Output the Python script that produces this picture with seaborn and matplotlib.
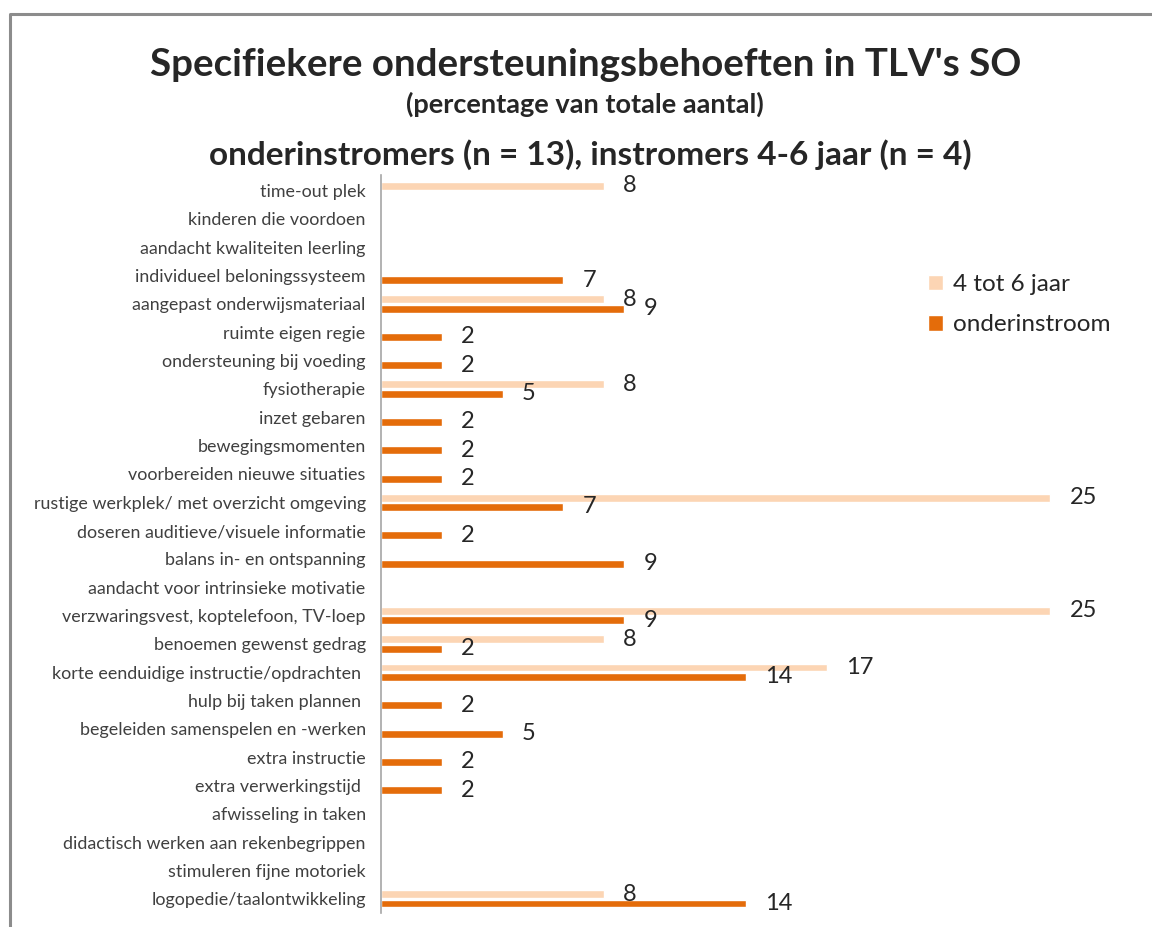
import pandas as pd
import numpy as np
import matplotlib.pyplot as plt
import seaborn as sns
from matplotlib.lines import Line2D
from matplotlib.patches import Patch

categories = [
    'time-out plek',
    'kinderen die voordoen',
    'aandacht kwaliteiten leerling',
    'individueel beloningssysteem',
    'aangepast onderwijsmateriaal',
    'ruimte eigen regie',
    'ondersteuning bij voeding',
    'fysiotherapie',
    'inzet gebaren',
    'bewegingsmomenten',
    'voorbereiden nieuwe situaties',
    'rustige werkplek/ met overzicht omgeving',
    'doseren auditieve/visuele informatie',
    'balans in- en ontspanning',
    'aandacht voor intrinsieke motivatie',
    'verzwaringsvest, koptelefoon, TV-loep',
    'benoemen gewenst gedrag',
    'korte eenduidige instructie/opdrachten ',
    'hulp bij taken plannen ',
    'begeleiden samenspelen en -werken',
    'extra instructie',
    'extra verwerkingstijd ',
    'afwisseling in taken',
    'didactisch werken aan rekenbegrippen',
    'stimuleren fijne motoriek',
    'logopedie/taalontwikkeling',
]

# percentages (labels in the picture are rounded)
jaar_4_6 = [8.33, 0, 0, 0, 8.33, 0, 0, 8.33, 0, 0, 0, 25.0, 0, 0, 0,
            25.0, 8.33, 16.67, 0, 0, 0, 0, 0, 0, 0, 8.33]
onderinstroom = [0, 0, 0, 6.82, 9.09, 2.27, 2.27, 4.55, 2.27, 2.27, 2.27, 6.82,
                 2.27, 9.09, 0, 9.09, 2.27, 13.64, 2.27, 4.55, 2.27, 2.27,
                 0, 0, 0, 13.64]

series_names = ['4 tot 6 jaar', 'onderinstroom']
colors = ['#FCD5B4', '#E46C0A']

df = pd.DataFrame({'categorie': categories,
                   series_names[0]: jaar_4_6,
                   series_names[1]: onderinstroom})
df_melted = df.melt(id_vars='categorie', var_name='groep', value_name='procent')

sns.set_style('white')
plt.rcParams['font.family'] = ['Lato', 'DejaVu Sans']

fig = plt.figure(figsize=(11.52, 9.27), dpi=100)
ax = fig.add_axes([0.3307, 0.0151, 0.6504, 0.7961])

sns.barplot(data=df_melted, y='categorie', x='procent', hue='groep',
            hue_order=series_names, palette=colors, saturation=1, orient='h',
            width=0.66, gap=0.15, ax=ax, legend=False)

for c in ax.containers:
    labs = [f'{b.get_width():.0f}' if b.get_width() > 0 else '' for b in c]
    ax.bar_label(c, labels=labs, padding=14, fontsize=17, color='#262626')

ax.set_xlim(0, 28)
ax.set_ylim(len(categories) - 0.5, -0.55)
ax.set_xlabel('')
ax.set_ylabel('')
ax.set_xticks([])
ax.tick_params(axis='y', length=0, pad=11, labelsize=12.9, labelcolor='#404040')
for s in ['top', 'right', 'bottom']:
    ax.spines[s].set_visible(False)
ax.spines['left'].set_color('#A6A6A6')
ax.spines['left'].set_linewidth(1.2)

handles = [Patch(facecolor=col, label=n) for col, n in zip(colors, series_names)]
fig.legend(handles=handles, loc='upper left', bbox_to_anchor=(0.7865, 0.728),
           frameon=False, fontsize=17.5, handlelength=0.6, handleheight=0.6,
           handletextpad=0.45, labelspacing=0.8, labelcolor='#262626')

fig.text(0.508, 0.930, "Specifiekere ondersteuningsbehoeften in TLV's SO",
         ha='center', va='center', fontsize=27.7, fontweight='bold')
fig.text(0.508, 0.887, '(percentage van totale aantal)',
         ha='center', va='center', fontsize=19.5, fontweight='bold')
fig.text(0.512, 0.833, 'onderinstromers (n = 13), instromers 4-6 jaar (n = 4)',
         ha='center', va='center', fontsize=24, fontweight='bold')

# chart frame (gray border, only top and left visible)
fig.add_artist(Line2D([9.5 / 1152, 9.5 / 1152, 1.0], [0.0, 1 - 13.5 / 927, 1 - 13.5 / 927],
                      transform=fig.transFigure, color='#8C8C8C', linewidth=2.2))

plt.savefig('out.png', dpi=100)
